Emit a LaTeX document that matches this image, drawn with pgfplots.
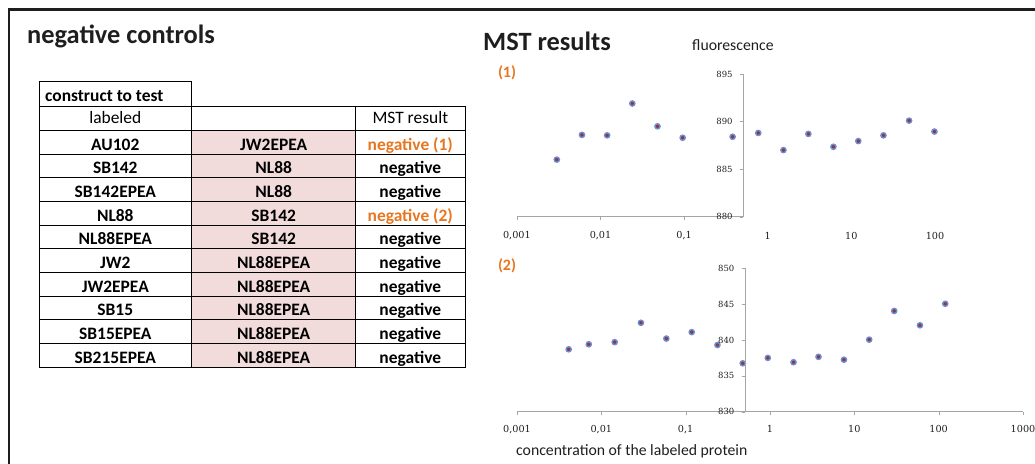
\documentclass[border=0pt]{standalone}
\usepackage{pgfplots}
\pgfplotsset{compat=1.18}
\usepackage{fontspec}
\setmainfont{Carlito}
\newfontfamily\tfont{DejaVu Serif}
\definecolor{orangeT}{RGB}{232,118,30}
\definecolor{pinkC}{RGB}{242,220,219}
\definecolor{axgray}{RGB}{165,165,165}
\definecolor{mkfill}{RGB}{150,50,75}
\definecolor{mkdraw}{RGB}{105,145,210}
\definecolor{txt}{RGB}{30,30,30}
\begin{document}
\begin{tikzpicture}
\useasboundingbox (0bp,0bp) rectangle (1035bp,464bp);
% frame
\draw[line width=2.5bp, txt] (8.8bp,0bp) -- (8.8bp,454.5bp) -- (1035bp,454.5bp);
% titles
\node[anchor=base west, inner sep=0pt, text=txt, font=\bfseries\fontsize{26.5}{30}\selectfont] at (27bp,420.7bp) {negative controls};
\node[anchor=base west, inner sep=0pt, text=txt, font=\bfseries\fontsize{26.5}{30}\selectfont] at (483bp,413bp) {MST results};
\node[anchor=base west, inner sep=0pt, text=txt, font=\fontsize{15.8}{18}\selectfont] at (692bp,413bp) {fluorescence};
\node[anchor=center, inner sep=0pt, text=orangeT, font=\bfseries\fontsize{16}{18}\selectfont] at (507bp,391bp) {(1)};
\node[anchor=center, inner sep=0pt, text=orangeT, font=\bfseries\fontsize{16}{18}\selectfont] at (507bp,198bp) {(2)};
\node[anchor=base west, inner sep=0pt, text=txt, font=\fontsize{15.8}{18}\selectfont] at (516bp,9bp) {concentration of the labeled protein};
% table
\fill[pinkC] (191.7bp,333.5bp) rectangle (355.7bp,96.7bp);
\begin{scope}[line width=0.9bp, black]
\draw (39bp,382.3bp) -- (191.7bp,382.3bp) -- (191.7bp,96.7bp);
\draw (39bp,382.3bp) -- (39bp,96.7bp) -- (465bp,96.7bp) -- (465bp,358bp) -- (39bp,358bp);
\draw (355.7bp,358bp) -- (355.7bp,96.7bp);
\foreach \i in {0,...,9} \draw (39bp,{(333.5-23.68*\i)*1bp}) -- (465bp,{(333.5-23.68*\i)*1bp});
\end{scope}
\begin{scope}[every node/.style={inner sep=0pt, anchor=base, font=\bfseries\fontsize{17.5}{20}\selectfont}]
\node[anchor=base west] at (45bp,362.5bp) {construct to test};
\node[font=\fontsize{17.5}{20}\selectfont] at (115.3bp,340.5bp) {labeled};
\node[font=\fontsize{17.5}{20}\selectfont] at (410.3bp,340.5bp) {MST result};
\foreach \a/\b/\c [count=\i from 0] in {AU102/JW2EPEA/{\color{orangeT}negative (1)}, SB142/NL88/negative, SB142EPEA/NL88/negative, NL88/SB142/{\color{orangeT}negative (2)}, NL88EPEA/SB142/negative, JW2/NL88EPEA/negative, JW2EPEA/NL88EPEA/negative, SB15/NL88EPEA/negative, SB15EPEA/NL88EPEA/negative, SB215EPEA/NL88EPEA/negative}{
  \node at (115.3bp,{(314-23.68*\i)*1bp}) {\a};
  \node at (273.7bp,{(314-23.68*\i)*1bp}) {\b};
  \node at (410.3bp,{(314-23.68*\i)*1bp}) {\c};
}
\end{scope}
% plot 1
\begin{axis}[xmode=log, scale only axis, at={(516.9bp,247.3bp)}, anchor=south west,
  width=418.1bp, height=142.7bp,
  xmin=0.001, xmax=100, ymin=880, ymax=895,
  axis x line=bottom, axis y line=none, x axis line style={draw=none},
  xminorticks=false, clip=false,
  xtick={0.001,0.01,0.1}, xticklabels={{0,001},{0,01},{0,1}},
  extra x ticks={1,10,100}, extra x tick labels={1,10,100},
  extra x tick style={xtick style={draw=none}},
  xticklabel style={font=\tfont\fontsize{9.7}{11}\selectfont, text=txt, anchor=center, inner sep=0pt, yshift=-15.5bp},
  xtick style={axgray}, tick align=outside, major tick length=3.5bp]
\draw[axgray] (axis cs:0.001,880) -- (axis cs:0.5,880);
\addplot[only marks, mark=*, mark size=2.6bp, mark options={draw=mkdraw, fill=mkfill, line width=1.4bp}] coordinates {
 (0.003,886.0) (0.006,888.6) (0.012,888.55) (0.024,891.9) (0.048,889.5) (0.096,888.3)
 (0.38,888.4) (0.77,888.8) (1.54,887.0) (3.06,888.7) (6.1,887.35) (12.1,887.95)
 (24.2,888.55) (49,890.1) (98.5,888.95)};
\end{axis}
\begin{axis}[scale only axis, at={(743.3bp,247.3bp)}, anchor=south west, width=1bp, height=142.7bp,
  xmin=0, xmax=1, ymin=880, ymax=895, axis x line=none, axis y line=left,
  y axis line style={-, axgray}, ytick style={axgray}, tick align=outside, major tick length=3.5bp,
  ytick={880,885,890,895}, yticklabels={880,885,890,895},
  yticklabel style={font=\tfont\fontsize{8.5}{10}\selectfont, text=txt, anchor=east, inner sep=0pt, xshift=-7bp}]
\end{axis}
% plot 2
\begin{axis}[xmode=log, scale only axis, at={(517bp,52.3bp)}, anchor=south west,
  width=506bp, height=143.4bp,
  xmin=0.001, xmax=1000, ymin=830, ymax=850,
  axis x line=bottom, axis y line=none, x axis line style={-, axgray},
  xminorticks=false, clip=false,
  xtick={0.001,0.01,0.1,1,10,100,1000}, xticklabels={{0,001},{0,01},{0,1},1,10,100,1000},
  xticklabel style={font=\tfont\fontsize{9.7}{11}\selectfont, text=txt, anchor=center, inner sep=0pt, yshift=-14bp},
  xtick style={axgray}, tick align=outside, major tick length=3.5bp]
\addplot[only marks, mark=*, mark size=2.6bp, mark options={draw=mkdraw, fill=mkfill, line width=1.4bp}] coordinates {
 (0.0041,838.7) (0.0071,839.4) (0.0144,839.7) (0.0295,842.4) (0.059,840.2) (0.118,841.1)
 (0.238,839.3) (0.475,836.75) (0.942,837.5) (1.9,836.9) (3.76,837.65) (7.53,837.25)
 (15.0,840.05) (29.7,844.05) (60,842.05) (119.7,845.05)};
\end{axis}
\begin{axis}[scale only axis, at={(745bp,52.3bp)}, anchor=south west, width=1bp, height=143.4bp,
  xmin=0, xmax=1, ymin=830, ymax=850, axis x line=none, axis y line=left,
  y axis line style={-, axgray}, ytick style={axgray}, tick align=outside, major tick length=3.5bp,
  ytick={830,835,840,845,850}, yticklabels={830,835,840,845,850},
  yticklabel style={font=\tfont\fontsize{8.5}{10}\selectfont, text=txt, anchor=east, inner sep=0pt, xshift=-7bp}]
\end{axis}
\end{tikzpicture}
\end{document}
